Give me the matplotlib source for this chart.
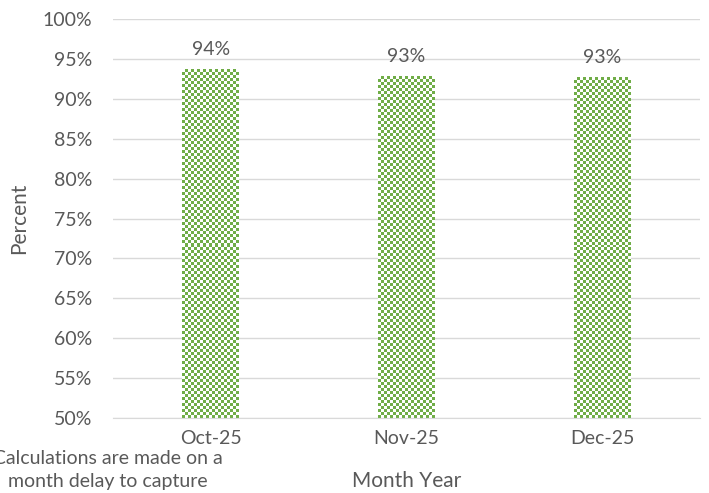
import matplotlib.pyplot as plt
import numpy as np

plt.rcParams['font.family'] = ['Lato', 'DejaVu Sans']

months = ['Oct-25', 'Nov-25', 'Dec-25']
percent = [93.7, 92.8, 92.7]
labels = ['94%', '93%', '93%']
yticks = list(range(50, 101, 5))

text_col = '#595959'
green = np.array([0x70, 0xAD, 0x47]) / 255
base = 50

fig = plt.figure(figsize=(7.09, 4.93), dpi=100)
ax = fig.add_axes([113 / 709, 75 / 493, 587 / 709, 399 / 493])

x = np.arange(len(months))
heights = [p - base for p in percent]
bars = ax.bar(x, heights, bottom=base, width=0.29, color='white', zorder=2)

ax.set_ylim(50, 100)
ax.set_xlim(-0.5, len(months) - 0.5)
ax.set_yticks(yticks)
ax.set_yticklabels(['{}%'.format(v) for v in yticks])
ax.set_xticks(x)
ax.set_xticklabels(months)
ax.tick_params(axis='y', length=0, labelsize=14, colors=text_col, pad=15)
ax.tick_params(axis='x', length=0, labelsize=14, colors=text_col, pad=9)
ax.grid(axis='y', color='#D9D9D9', linewidth=1)
ax.set_axisbelow(True)
[ax.spines[s].set_visible(False) for s in ax.spines]
ax.spines['bottom'].set_visible(True)
ax.spines['bottom'].set_color('#D9D9D9')

ax.set_ylabel('Percent', fontsize=15, color=text_col, labelpad=10)
ax.set_xlabel('Month Year', fontsize=15, color=text_col, labelpad=17)

# checkerboard fill, clipped to each bar
fig.canvas.draw()
for b in bars:
    bb = b.get_window_extent()
    nx = max(int(round(bb.width / 3)), 1)
    ny = max(int(round(bb.height / 3)), 1)
    board = np.add.outer(np.arange(ny), np.arange(nx)) % 2
    rgb = np.ones((ny, nx, 3))
    rgb[board == 1] = green
    x0, y0 = b.get_x(), b.get_y()
    im = ax.imshow(rgb, extent=(x0, x0 + b.get_width(), y0, y0 + b.get_height()),
                   aspect='auto', interpolation='nearest', zorder=2.5)
    im.set_clip_path(b)

ax.set_xlim(-0.5, len(months) - 0.5)
ax.set_ylim(50, 100)

for xi, v, lab in zip(x, percent, labels):
    ax.annotate(lab, (xi, v), xytext=(0, 8), textcoords='offset points',
                ha='center', va='bottom', fontsize=14, color=text_col)

fig.text(108 / 709, 1 - 458 / 493, 'Calculations are made on a', ha='center', va='center',
         fontsize=14, color=text_col)
fig.text(108 / 709, 1 - 481 / 493, 'month delay to capture', ha='center', va='center',
         fontsize=14, color=text_col)

fig.savefig('out.png', dpi=100)
